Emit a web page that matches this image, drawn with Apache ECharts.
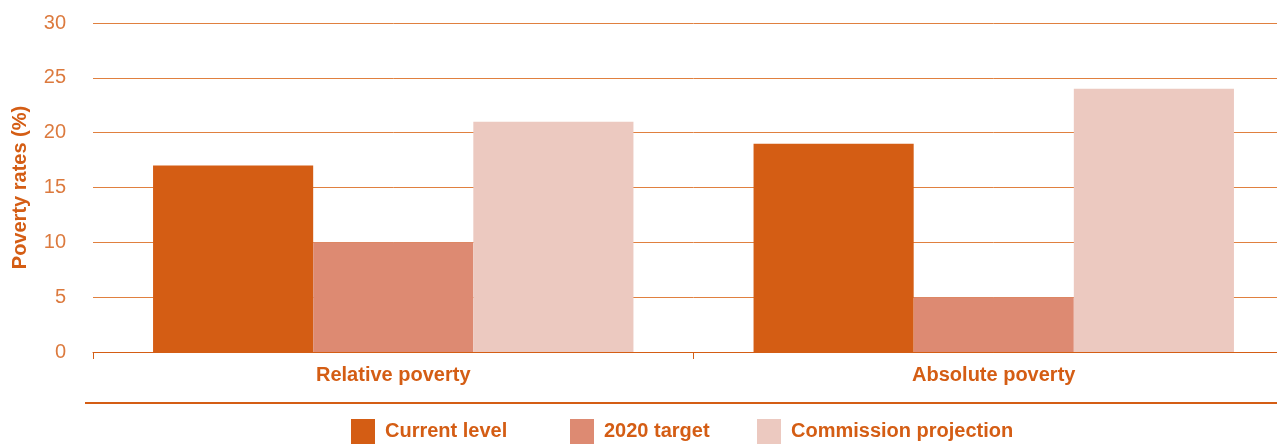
<!DOCTYPE html>
<html>
<head>
<meta charset="utf-8">
<script src="https://cdn.jsdelivr.net/npm/echarts@6/dist/echarts.min.js"></script>
<style>
  html, body { margin: 0; padding: 0; background: #fff; overflow: hidden; }
  #main { width: 1294px; height: 444px; }
</style>
</head>
<body>
<div id="main"></div>
<script>
var categories = ['Relative poverty', 'Absolute poverty']
var currentLevel = [17, 19]
var target2020 = [10, 5]
var commissionProjection = [21, 24]
var yTicks = [0, 5, 10, 15, 20, 25, 30]

var orange = '#d45d14'
var font = 'Liberation Sans, Arial, Helvetica, sans-serif'

var myChart = echarts.init(document.getElementById('main'))

// the reference spaces its legend items unevenly, so one legend per item
function legendAt(name, left) {
    return {
        top: 414,
        left: left,
        itemWidth: 24,
        itemHeight: 25,
        icon: 'rect',
        textStyle: { color: orange, fontSize: 20, fontWeight: 'bold', fontFamily: font, padding: [10, 0, 0, 5] },
        data: [name]
    }
}

var option = {
    animation: false,
    textStyle: { fontFamily: font },
    grid: { left: 93, right: 0, top: 23, bottom: 92 },
    legend: [
        legendAt('Current level', 346),
        legendAt('2020 target', 565),
        legendAt('Commission projection', 752)
    ],
    xAxis: {
        type: 'category',
        data: categories,
        axisLine: { lineStyle: { color: orange, width: 1 } },
        axisTick: { show: true, length: 7, lineStyle: { color: orange } },
        axisLabel: { color: orange, fontSize: 20, fontWeight: 'bold', margin: 13, fontFamily: font }
    },
    yAxis: {
        type: 'value',
        min: yTicks[0],
        max: yTicks[yTicks.length - 1],
        interval: 5,
        name: 'Poverty rates (%)',
        nameLocation: 'middle',
        nameGap: 63,
        nameTextStyle: { color: orange, fontSize: 20, fontWeight: 'bold', fontFamily: font },
        axisLine: { show: false },
        axisTick: { show: false },
        axisLabel: { color: '#dc7a3e', fontSize: 20, margin: 27, fontFamily: font },
        splitLine: { lineStyle: { color: '#e0803f', width: 1 } }
    },
    graphic: [{
        type: 'rect',
        shape: { x: 85, y: 402, width: 1192, height: 2 },
        style: { fill: orange }
    }],
    series: [{
        name: 'Current level',
        type: 'bar',
        data: currentLevel,
        barGap: '0%',
        barCategoryGap: '20%',
        itemStyle: { color: orange }
    }, {
        name: '2020 target',
        type: 'bar',
        data: target2020,
        itemStyle: { color: '#dd8a72' }
    }, {
        name: 'Commission projection',
        type: 'bar',
        data: commissionProjection,
        itemStyle: { color: '#ecc9c0' }
    }]
}

myChart.setOption(option)
</script>
</body>
</html>
